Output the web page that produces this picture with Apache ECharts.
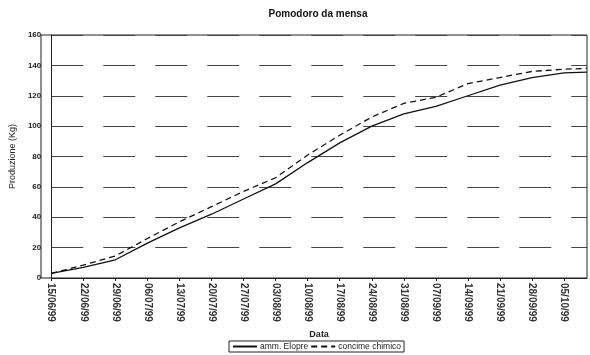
<!DOCTYPE html>
<html>
<head>
<meta charset="utf-8">
<script src="https://cdn.jsdelivr.net/npm/echarts@6/dist/echarts.min.js"></script>
<style>
  html, body { margin: 0; padding: 0; background: #fff; }
  #chart { width: 590px; height: 355px; }
</style>
</head>
<body>
<div id="chart"></div>
<script>
// giorni dal 15/06/99
const days = [0, 7, 14, 21, 28, 35, 42, 49, 56, 63, 70, 77, 84, 91, 98, 105, 112, 117]
const tickDays = [0, 7, 14, 21, 28, 35, 42, 49, 56, 63, 70, 77, 84, 91, 98, 105, 112]
const tickLabels = ['15/06/99', '22/06/99', '29/06/99', '06/07/99', '13/07/99', '20/07/99', '27/07/99', '03/08/99',
  '10/08/99', '17/08/99', '24/08/99', '31/08/99', '07/09/99', '14/09/99', '21/09/99', '28/09/99', '05/10/99']
const elopre = [3, 7, 12, 23, 33, 42, 52, 62, 76, 89, 100, 108, 113, 120, 127, 132, 135, 135.5]
const chimico = [3, 8.5, 14.5, 26, 37, 47, 57, 66, 81, 94, 106, 115, 119, 128, 132, 136, 137.5, 138]

const chart = echarts.init(document.getElementById('chart'))
const font = 'Liberation Sans, Arial, sans-serif'

const option = {
  animation: false,
  title: {
    text: 'Pomodoro da mensa',
    left: 313,
    textAlign: 'center',
    top: 4,
    textStyle: { fontFamily: font, fontSize: 10, fontWeight: 'bold', color: '#111' }
  },
  legend: {
    bottom: 3,
    left: 229,
    itemWidth: 24,
    itemHeight: 8,
    itemGap: 2,
    padding: [1, 3],
    borderColor: '#222',
    borderWidth: 1,
    itemStyle: { opacity: 0 },
    textStyle: { fontFamily: font, fontSize: 8.5, color: '#222', padding: [0, 0, 0, -2] },
    data: ['amm. Elopre', 'concime chimico']
  },
  grid: { left: 41, right: 3, top: 35, bottom: 77 },
  xAxis: {
    type: 'value',
    min: 0,
    max: 117,
    name: 'Data',
    nameLocation: 'middle',
    nameGap: 51,
    nameTextStyle: { fontFamily: font, fontSize: 9, fontWeight: 'bold', color: '#222' },
    axisLine: { lineStyle: { color: '#222', width: 1 } },
    axisTick: { customValues: tickDays, length: 3, lineStyle: { color: '#222' } },
    axisLabel: {
      customValues: tickDays,
      rotate: -90,
      fontFamily: font,
      fontSize: 10,
      fontWeight: 'bold',
      color: '#333',
      margin: 5,
      formatter: v => tickLabels[tickDays.indexOf(v)]
    },
    splitLine: { show: false }
  },
  yAxis: {
    type: 'value',
    min: 0,
    max: 160,
    interval: 20,
    name: 'Produzione (Kg)',
    nameLocation: 'middle',
    nameGap: 26,
    nameTextStyle: { fontFamily: font, fontSize: 9, color: '#222' },
    axisLine: { show: true, lineStyle: { color: '#222', width: 1 } },
    axisTick: { show: false },
    axisLabel: { fontFamily: font, fontSize: 8, fontWeight: 'bold', color: '#222', margin: 10 },
    splitLine: { lineStyle: { color: '#444', width: 1, type: [32, 20] } }
  },
  series: [
    {
      name: 'amm. Elopre',
      type: 'line',
      showSymbol: false,
      data: days.map((d, i) => [d, elopre[i]]),
      lineStyle: { color: '#111', width: 1.3 },
      itemStyle: { color: '#111' }
    },
    {
      name: 'concime chimico',
      type: 'line',
      showSymbol: false,
      data: days.map((d, i) => [d, chimico[i]]),
      lineStyle: { color: '#111', width: 1.3, type: [6, 4] },
      itemStyle: { color: '#111' }
    }
  ],
  graphic: [
    // bordo superiore e destro dell'area del grafico
    { type: 'rect', shape: { x: 41, y: 35, width: 546, height: 243 }, style: { fill: 'none', stroke: '#222', lineWidth: 1 }, silent: true }
  ]
}
chart.setOption(option)
</script>
</body>
</html>
